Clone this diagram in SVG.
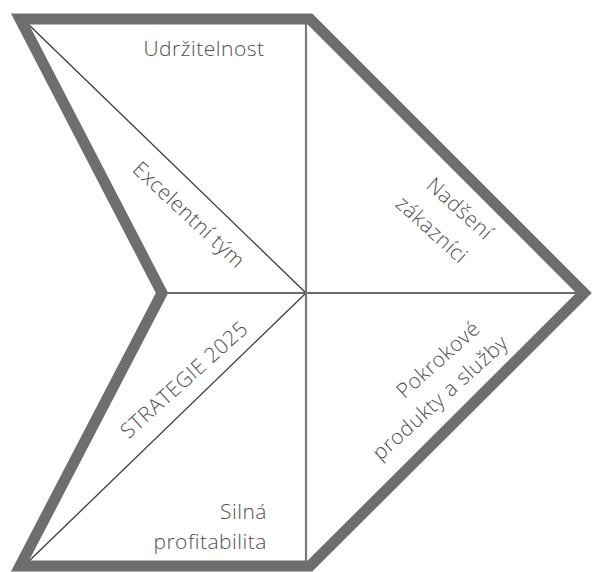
<svg xmlns="http://www.w3.org/2000/svg" width="593" height="572" viewBox="0 0 593 572">
  <style>
    .frame { fill: none; stroke: #6e6e6e; stroke-width: 11; stroke-linejoin: miter; stroke-miterlimit: 10; }
    .div { fill: none; stroke: #3a3a3a; stroke-width: 1.3; }
    .vdiv { fill: none; stroke: #7a7a7a; stroke-width: 2.2; }
    .lbl { font-family: "Open Sans", "Liberation Sans", sans-serif; font-size: 21px; font-weight: 300; fill: #505050; letter-spacing: 0.5px; }
  </style>
  <rect width="593" height="572" fill="#ffffff"/>

  <!-- connectors: dividing lines inside the chevron -->
  <g id="connectors">
    <line class="div" x1="28" y1="24" x2="306" y2="293"/>
    <line class="div" x1="28" y1="562" x2="306" y2="293"/>
    <line class="div" x1="166" y1="293" x2="584" y2="293"/>
    <line class="vdiv" x1="306" y1="22" x2="306" y2="564"/>
  </g>

  <!-- outer chevron frame -->
  <g id="frame">
    <polygon class="frame" points="20,19 310,19 584,293 310,566 20,566 162,293"/>
  </g>

  <g id="udrzitelnost">
    <text class="lbl" x="204" y="56" text-anchor="middle">Udržitelnost</text>
  </g>

  <g id="excelentni-tym">
    <text class="lbl" text-anchor="middle" transform="translate(184,220) rotate(43)">Excelentní tým</text>
  </g>

  <g id="strategie">
    <text class="lbl" text-anchor="middle" letter-spacing="1.2" transform="translate(189,385) rotate(-42)">STRATEGIE 2025</text>
  </g>

  <g id="silna-profitabilita">
    <text class="lbl" x="267" y="519" text-anchor="end">Silná</text>
    <text class="lbl" x="267" y="549" text-anchor="end">profitabilita</text>
  </g>

  <g id="nadseni-zakaznici">
    <text class="lbl" text-anchor="middle" transform="translate(455,214) rotate(42)">Nadšení</text>
    <text class="lbl" text-anchor="middle" transform="translate(427,235) rotate(42)">zákazníci</text>
  </g>

  <g id="pokrokove-produkty">
    <text class="lbl" text-anchor="middle" transform="translate(443,365) rotate(-42)">Pokrokové</text>
    <text class="lbl" text-anchor="middle" transform="translate(445,403) rotate(-42)">produkty a služby</text>
  </g>
</svg>
